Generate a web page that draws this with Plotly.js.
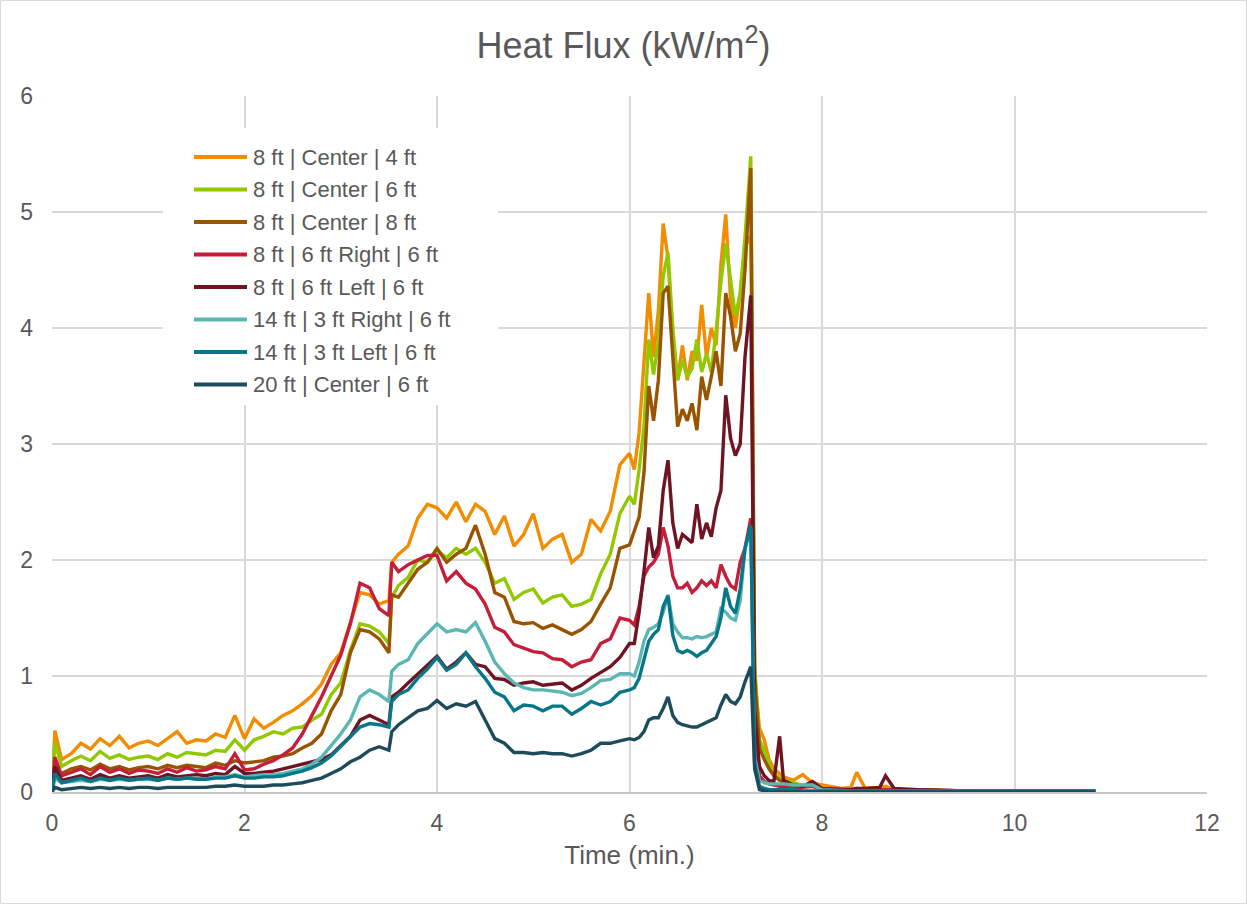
<!DOCTYPE html>
<html>
<head>
<meta charset="utf-8">
<script src="https://cdn.plot.ly/plotly-3.0.1.min.js"></script>
<style>html,body{margin:0;padding:0;background:#fff;}#chart{width:1247px;height:904px;}</style>
</head>
<body>
<div id="chart"></div>
<script>
// Time (min.)
const time = [
  0, 0.03, 0.1, 0.2, 0.3, 0.4, 0.5, 0.6, 0.7, 0.8, 0.9, 1.0,
  1.1, 1.2, 1.3, 1.4, 1.5, 1.6, 1.7, 1.8, 1.9, 2.0,
  2.1, 2.2, 2.3, 2.4, 2.5, 2.6, 2.7, 2.8, 2.9, 3.0,
  3.1, 3.2, 3.3, 3.4, 3.5, 3.53, 3.6, 3.7, 3.8, 3.9, 4.0,
  4.1, 4.2, 4.3, 4.4, 4.5, 4.6, 4.7, 4.8, 4.9, 5.0,
  5.1, 5.2, 5.3, 5.4, 5.5, 5.6, 5.7, 5.8, 5.9, 6.0,
  6.05, 6.1, 6.15, 6.2, 6.25, 6.3, 6.35, 6.4, 6.45, 6.5, 6.55, 6.6,
  6.65, 6.7, 6.75, 6.8, 6.85, 6.9, 6.95, 7.0, 7.05, 7.1, 7.15, 7.2, 7.26,
  7.3, 7.35, 7.4, 7.45, 7.5, 7.56, 7.6, 7.7, 7.8, 7.9, 8.0,
  8.2, 8.3, 8.36, 8.45, 8.6, 8.66, 8.75, 9.0, 9.5, 10.0, 10.5, 10.84
];

const seriesNames = [
  "8 ft | Center | 4 ft",
  "8 ft | Center | 6 ft",
  "8 ft | Center | 8 ft",
  "8 ft | 6 ft Right | 6 ft",
  "8 ft | 6 ft Left | 6 ft",
  "14 ft | 3 ft Right | 6 ft",
  "14 ft | 3 ft Left | 6 ft",
  "20 ft | Center | 6 ft"
];

const center4 = [
  0.02, 0.53, 0.28, 0.33, 0.42, 0.37, 0.46, 0.40, 0.48, 0.38, 0.42, 0.44,
  0.40, 0.46, 0.52, 0.42, 0.45, 0.44, 0.50, 0.47, 0.66, 0.46,
  0.63, 0.55, 0.60, 0.66, 0.70, 0.76, 0.83, 0.93, 1.10, 1.20,
  1.45, 1.72, 1.70, 1.62, 1.65, 1.98, 2.05, 2.12, 2.36, 2.48, 2.45,
  2.36, 2.50, 2.33, 2.48, 2.42, 2.22, 2.38, 2.12, 2.22, 2.40,
  2.10, 2.18, 2.22, 1.98, 2.05, 2.35, 2.25, 2.42, 2.82, 2.92,
  2.78, 3.10, 3.70, 4.30, 3.75, 4.15, 4.90, 4.60, 3.90, 3.55, 3.85, 3.55,
  3.80, 3.72, 4.20, 3.75, 4.00, 3.85, 4.55, 4.98, 4.25, 4.00, 4.30, 4.70, 4.80,
  1.00, 0.55, 0.45, 0.28, 0.20, 0.16, 0.13, 0.10, 0.15, 0.08, 0.06,
  0.03, 0.04, 0.17, 0.03, 0.04, 0.05, 0.02, 0.02, 0.01, 0.01, 0.01, 0.01
];
const center6 = [
  0.02, 0.43, 0.22, 0.27, 0.31, 0.27, 0.35, 0.29, 0.32, 0.28, 0.30, 0.31,
  0.28, 0.33, 0.30, 0.34, 0.33, 0.32, 0.36, 0.35, 0.45, 0.36,
  0.45, 0.48, 0.52, 0.50, 0.55, 0.56, 0.62, 0.67, 0.84, 0.94,
  1.22, 1.45, 1.43, 1.38, 1.28, 1.68, 1.78, 1.85, 2.00, 1.98, 2.08,
  2.02, 2.10, 2.05, 2.10, 1.98, 1.80, 1.84, 1.66, 1.72, 1.75,
  1.63, 1.68, 1.70, 1.60, 1.62, 1.66, 1.88, 2.05, 2.40, 2.55,
  2.48, 2.78, 3.15, 3.90, 3.60, 3.88, 4.45, 4.65, 4.00, 3.55, 3.72, 3.58,
  3.65, 3.90, 3.62, 3.78, 3.62, 3.98, 4.40, 4.73, 4.42, 4.10, 4.30, 4.78, 5.48,
  1.10, 0.45, 0.36, 0.24, 0.16, 0.12, 0.10, 0.08, 0.06, 0.05, 0.03,
  0.02, 0.02, 0.02, 0.02, 0.02, 0.02, 0.02, 0.01, 0.01, 0.01, 0.01, 0.01
];
const center8 = [
  0.01, 0.22, 0.16, 0.20, 0.22, 0.19, 0.24, 0.20, 0.22, 0.19, 0.21, 0.22,
  0.20, 0.23, 0.21, 0.23, 0.22, 0.21, 0.25, 0.23, 0.27, 0.25,
  0.26, 0.27, 0.30, 0.31, 0.33, 0.38, 0.42, 0.50, 0.70, 0.84,
  1.20, 1.40, 1.38, 1.32, 1.20, 1.70, 1.68, 1.80, 1.92, 1.98, 2.10,
  1.98, 2.05, 2.10, 2.30, 2.05, 1.72, 1.68, 1.47, 1.45, 1.46,
  1.41, 1.44, 1.40, 1.36, 1.40, 1.47, 1.62, 1.76, 2.10, 2.13,
  2.25, 2.37, 2.75, 3.50, 3.20, 3.55, 4.30, 4.36, 3.75, 3.15, 3.30, 3.20,
  3.35, 3.12, 3.58, 3.38, 3.58, 3.80, 3.50, 4.30, 4.10, 3.80, 3.95, 4.50, 5.38,
  1.00, 0.38, 0.28, 0.20, 0.14, 0.10, 0.08, 0.06, 0.05, 0.05, 0.03,
  0.02, 0.02, 0.02, 0.02, 0.02, 0.02, 0.01, 0.01, 0.01, 0.01, 0.01, 0.01
];
const right6 = [
  0.01, 0.30, 0.14, 0.17, 0.20, 0.15, 0.22, 0.17, 0.20, 0.16, 0.19, 0.18,
  0.16, 0.20, 0.17, 0.21, 0.18, 0.19, 0.22, 0.20, 0.33, 0.19,
  0.20, 0.24, 0.27, 0.32, 0.38, 0.50, 0.66, 0.82, 1.00, 1.18,
  1.45, 1.80, 1.76, 1.58, 1.52, 1.98, 1.90, 1.96, 2.00, 2.04, 2.04,
  1.82, 1.90, 1.80, 1.75, 1.62, 1.42, 1.38, 1.27, 1.24, 1.21,
  1.20, 1.15, 1.14, 1.08, 1.12, 1.14, 1.28, 1.32, 1.50, 1.48,
  1.44, 1.60, 1.86, 1.94, 1.98, 2.05, 2.28, 2.12, 1.86, 1.76, 1.76, 1.80,
  1.72, 1.76, 1.82, 1.78, 1.82, 1.76, 1.96, 1.86, 1.78, 1.75, 1.98, 2.10, 2.36,
  0.50, 0.14, 0.09, 0.07, 0.06, 0.05, 0.05, 0.04, 0.04, 0.05, 0.02,
  0.02, 0.02, 0.03, 0.02, 0.02, 0.02, 0.02, 0.02, 0.01, 0.01, 0.01, 0.01
];
const left6 = [
  0.00, 0.22, 0.10, 0.12, 0.14, 0.11, 0.15, 0.12, 0.14, 0.12, 0.13, 0.14,
  0.12, 0.15, 0.13, 0.14, 0.15, 0.14, 0.16, 0.15, 0.22, 0.16,
  0.16, 0.17, 0.18, 0.20, 0.22, 0.24, 0.26, 0.28, 0.32, 0.40,
  0.48, 0.62, 0.66, 0.62, 0.58, 0.82, 0.86, 0.94, 1.02, 1.10, 1.17,
  1.06, 1.12, 1.20, 1.10, 1.08, 0.98, 0.97, 0.92, 0.94, 0.95,
  0.92, 0.93, 0.94, 0.88, 0.92, 0.98, 1.03, 1.08, 1.16, 1.28,
  1.28, 1.55, 1.90, 2.28, 2.02, 2.12, 2.60, 2.86, 2.32, 2.10, 2.22, 2.18,
  2.15, 2.48, 2.18, 2.32, 2.20, 2.45, 2.60, 3.42, 3.05, 2.90, 3.00, 3.75, 4.28,
  0.70, 0.22, 0.14, 0.10, 0.09, 0.48, 0.10, 0.06, 0.05, 0.09, 0.03,
  0.02, 0.02, 0.03, 0.03, 0.04, 0.14, 0.03, 0.02, 0.01, 0.01, 0.01, 0.01
];
const right3 = [
  0.00, 0.12, 0.08, 0.09, 0.10, 0.09, 0.11, 0.10, 0.11, 0.10, 0.11, 0.11,
  0.10, 0.12, 0.11, 0.12, 0.12, 0.11, 0.13, 0.13, 0.15, 0.13,
  0.14, 0.15, 0.15, 0.16, 0.18, 0.20, 0.24, 0.30, 0.40, 0.50,
  0.62, 0.82, 0.88, 0.84, 0.78, 1.04, 1.10, 1.14, 1.28, 1.36, 1.45,
  1.38, 1.40, 1.38, 1.46, 1.30, 1.12, 1.02, 0.94, 0.90, 0.88,
  0.88, 0.87, 0.86, 0.83, 0.85, 0.90, 0.96, 0.97, 1.02, 1.02,
  1.00, 1.12, 1.30, 1.40, 1.42, 1.45, 1.55, 1.70, 1.45, 1.38, 1.33, 1.33,
  1.32, 1.34, 1.33, 1.34, 1.36, 1.38, 1.58, 1.55, 1.50, 1.48, 1.65, 2.10, 2.27,
  0.30, 0.10, 0.08, 0.07, 0.07, 0.07, 0.07, 0.06, 0.06, 0.06, 0.02,
  0.01, 0.01, 0.01, 0.01, 0.01, 0.01, 0.01, 0.01, 0.01, 0.01, 0.01, 0.01
];
const left3 = [
  0.00, 0.16, 0.08, 0.10, 0.12, 0.09, 0.12, 0.10, 0.12, 0.10, 0.11, 0.12,
  0.10, 0.12, 0.11, 0.12, 0.11, 0.11, 0.12, 0.12, 0.14, 0.12,
  0.12, 0.13, 0.13, 0.14, 0.16, 0.18, 0.21, 0.25, 0.31, 0.39,
  0.48, 0.56, 0.59, 0.58, 0.56, 0.78, 0.84, 0.88, 0.98, 1.06, 1.16,
  1.05, 1.10, 1.20, 1.08, 0.98, 0.86, 0.82, 0.70, 0.75, 0.74,
  0.70, 0.74, 0.74, 0.67, 0.72, 0.78, 0.75, 0.78, 0.86, 0.88,
  0.90, 0.98, 1.15, 1.30, 1.36, 1.40, 1.60, 1.69, 1.35, 1.22, 1.20, 1.22,
  1.20, 1.17, 1.20, 1.22, 1.28, 1.34, 1.50, 1.76, 1.60, 1.54, 1.75, 2.10, 2.30,
  0.25, 0.05, 0.03, 0.02, 0.02, 0.02, 0.02, 0.02, 0.01, 0.01, 0.01,
  0.01, 0.01, 0.01, 0.01, 0.01, 0.01, 0.01, 0.01, 0.01, 0.01, 0.01, 0.01
];
const center20 = [
  0.00, 0.04, 0.02, 0.03, 0.04, 0.03, 0.04, 0.03, 0.04, 0.03, 0.04, 0.04,
  0.03, 0.04, 0.04, 0.04, 0.04, 0.04, 0.05, 0.05, 0.06, 0.05,
  0.05, 0.05, 0.06, 0.06, 0.07, 0.08, 0.10, 0.12, 0.16, 0.20,
  0.26, 0.30, 0.36, 0.39, 0.36, 0.52, 0.58, 0.64, 0.70, 0.72, 0.79,
  0.72, 0.76, 0.74, 0.78, 0.62, 0.46, 0.42, 0.34, 0.34, 0.33,
  0.34, 0.33, 0.33, 0.31, 0.33, 0.36, 0.42, 0.42, 0.44, 0.46,
  0.45, 0.47, 0.52, 0.62, 0.64, 0.64, 0.72, 0.82, 0.66, 0.60, 0.58, 0.57,
  0.56, 0.56, 0.58, 0.60, 0.62, 0.64, 0.75, 0.84, 0.78, 0.76, 0.82, 0.95, 1.08,
  0.20, 0.02, 0.01, 0.00, 0.00, 0.00, 0.00, 0.00, 0.00, 0.00, 0.00,
  0.00, 0.00, 0.00, 0.00, 0.00, 0.00, 0.00, 0.00, 0.00, 0.00, 0.00, 0.00
];

const seriesValues = [center4, center6, center8, right6, left6, right3, left3, center20];
const seriesColors = ["#F28C00", "#92C800", "#985400", "#C41E3A", "#6E1423", "#5BB7B3", "#077788", "#1E4B5C"];

const xTicks = [0, 2, 4, 6, 8, 10, 12];
const yTicks = [0, 1, 2, 3, 4, 5, 6];

const traces = seriesNames.map((name, i) => ({
  type: "scatter",
  mode: "lines",
  name: name,
  x: time,
  y: seriesValues[i],
  showlegend: false,
  line: { color: seriesColors[i], width: 3.4, shape: "linear" }
}));

const gridCol = "#D9D9D9";
const textCol = "#595959";
const FONT = "Liberation Sans, Arial, sans-serif";

// Plot area geometry (px) used for the hand-built legend
const plotL = 52, plotW = 1155, plotB = 792, plotH = 696;
const px2x = p => (p - plotL) / plotW;
const px2y = p => (plotB - p) / plotH;

const legendShapes = seriesNames.map((n, i) => ({
  type: "line", xref: "paper", yref: "paper",
  x0: px2x(194), x1: px2x(247),
  y0: px2y(157 + i * 32.5), y1: px2y(157 + i * 32.5),
  line: { color: seriesColors[i], width: 4 }, layer: "above"
}));
const legendLabels = seriesNames.map((n, i) => ({
  xref: "paper", yref: "paper",
  x: px2x(251), y: px2y(157 + i * 32.5),
  xanchor: "left", yanchor: "middle",
  text: n, showarrow: false,
  font: { size: 22, color: textCol, family: FONT }
}));

const layout = {
  width: 1247,
  height: 904,
  paper_bgcolor: "#FFFFFF",
  plot_bgcolor: "#FFFFFF",
  margin: { l: 52, r: 40, t: 96, b: 112 },
  font: { family: FONT, color: textCol },
  title: {
    text: "Heat Flux (kW/m<sup>2</sup>)",
    font: { size: 36, color: textCol, family: FONT },
    x: 0.5, xref: "container", xanchor: "center",
    y: 0.95, yref: "container", yanchor: "middle"
  },
  xaxis: {
    range: [0, 12],
    tickvals: xTicks,
    ticktext: xTicks.map(String),
    showgrid: true, gridcolor: gridCol, gridwidth: 2,
    zeroline: false,
    showline: true, linecolor: "#C8C8C8", linewidth: 2,
    ticks: "",
    ticklabelstandoff: 9,
    tickfont: { size: 23, color: textCol },
    title: { text: "Time (min.)", font: { size: 26, color: textCol }, standoff: 11 }
  },
  yaxis: {
    range: [0, 6],
    tickvals: yTicks,
    ticktext: yTicks.map(String),
    showgrid: true, gridcolor: gridCol, gridwidth: 2,
    zeroline: false,
    showline: false,
    ticks: "",
    ticklabelstandoff: 18,
    tickfont: { size: 23, color: textCol }
  },
  showlegend: false,
  annotations: legendLabels,
  shapes: [
    {
      type: "rect", xref: "paper", yref: "paper",
      x0: px2x(163), x1: px2x(498), y0: px2y(405), y1: px2y(128),
      fillcolor: "#FFFFFF", line: { width: 0 }, layer: "above"
    },
    {
      type: "rect", xref: "paper", yref: "paper",
      x0: px2x(0.5), x1: px2x(1246.5), y0: px2y(903.5), y1: px2y(0.5),
      fillcolor: "rgba(0,0,0,0)", line: { color: "#D9D9D9", width: 1 }, layer: "below"
    }
  ].concat(legendShapes)
};

Plotly.newPlot("chart", traces, layout, { displayModeBar: false, staticPlot: true });
</script>
</body>
</html>
